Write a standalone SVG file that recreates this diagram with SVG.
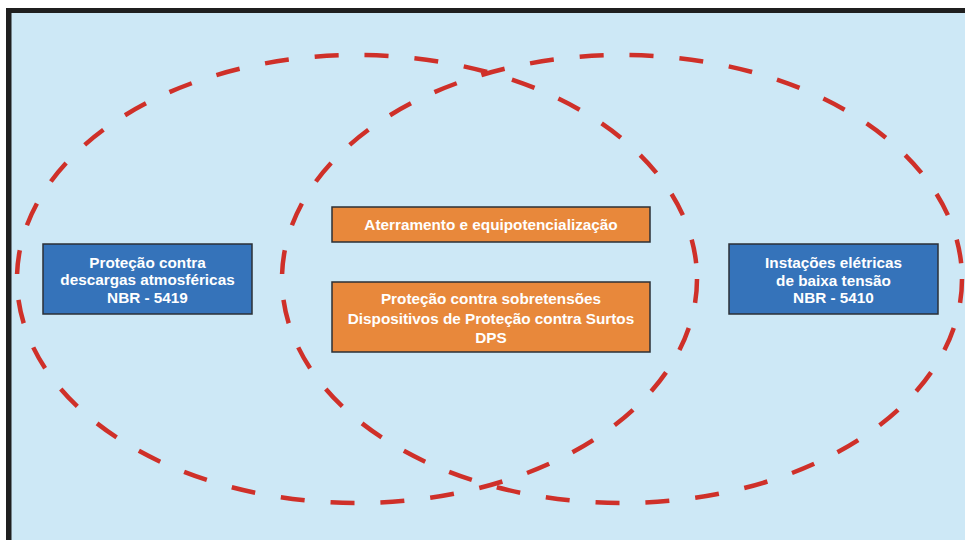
<svg xmlns="http://www.w3.org/2000/svg" width="965" height="540" viewBox="0 0 965 540">
<style>
.region{fill:none;stroke:#cf3029;stroke-width:4.5;stroke-dasharray:24 26}
.blue{fill:#3573ba;stroke:#2b2f36;stroke-width:1.5}
.orange{fill:#e8883b;stroke:#2b2f36;stroke-width:1.5}
.lbl{font-family:"Liberation Sans",Arial,Helvetica,sans-serif;font-size:15.3px;font-weight:bold;fill:#ffffff;text-anchor:middle;dominant-baseline:central}
</style>
<rect x="0" y="0" width="965" height="540" fill="#ffffff"/>
<rect x="6" y="8" width="959" height="532" fill="#cde8f6"/>
<rect x="6" y="8" width="959" height="5" fill="#1f1f1f"/>
<rect x="6" y="8" width="5.5" height="532" fill="#1f1f1f"/>
<g id="regions">
<ellipse id="region-left" class="region" cx="357" cy="279" rx="340" ry="224"/>
<ellipse id="region-right" class="region" cx="622" cy="279" rx="340" ry="224"/>
</g>
<g id="connectors"></g>
<g id="node-spda">
<rect class="blue" x="43" y="244" width="209" height="70"/>
<text class="lbl" x="147.5" y="262">Proteção contra</text>
<text class="lbl" x="147.5" y="279.5">descargas atmosféricas</text>
<text class="lbl" x="147.5" y="297">NBR - 5419</text>
</g>
<g id="node-bt">
<rect class="blue" x="729" y="244" width="209" height="70"/>
<text class="lbl" x="833.5" y="262">Instações elétricas</text>
<text class="lbl" x="833.5" y="280">de baixa tensão</text>
<text class="lbl" x="833.5" y="297.5">NBR - 5410</text>
</g>
<g id="node-aterramento">
<rect class="orange" x="332" y="207" width="318" height="35"/>
<text class="lbl" x="491" y="224.5">Aterramento e equipotencialização</text>
</g>
<g id="node-dps">
<rect class="orange" x="332" y="282" width="318" height="70"/>
<text class="lbl" x="491" y="298.5">Proteção contra sobretensões</text>
<text class="lbl" x="491" y="318">Dispositivos de Proteção contra Surtos</text>
<text class="lbl" x="491" y="337">DPS</text>
</g>
</svg>
